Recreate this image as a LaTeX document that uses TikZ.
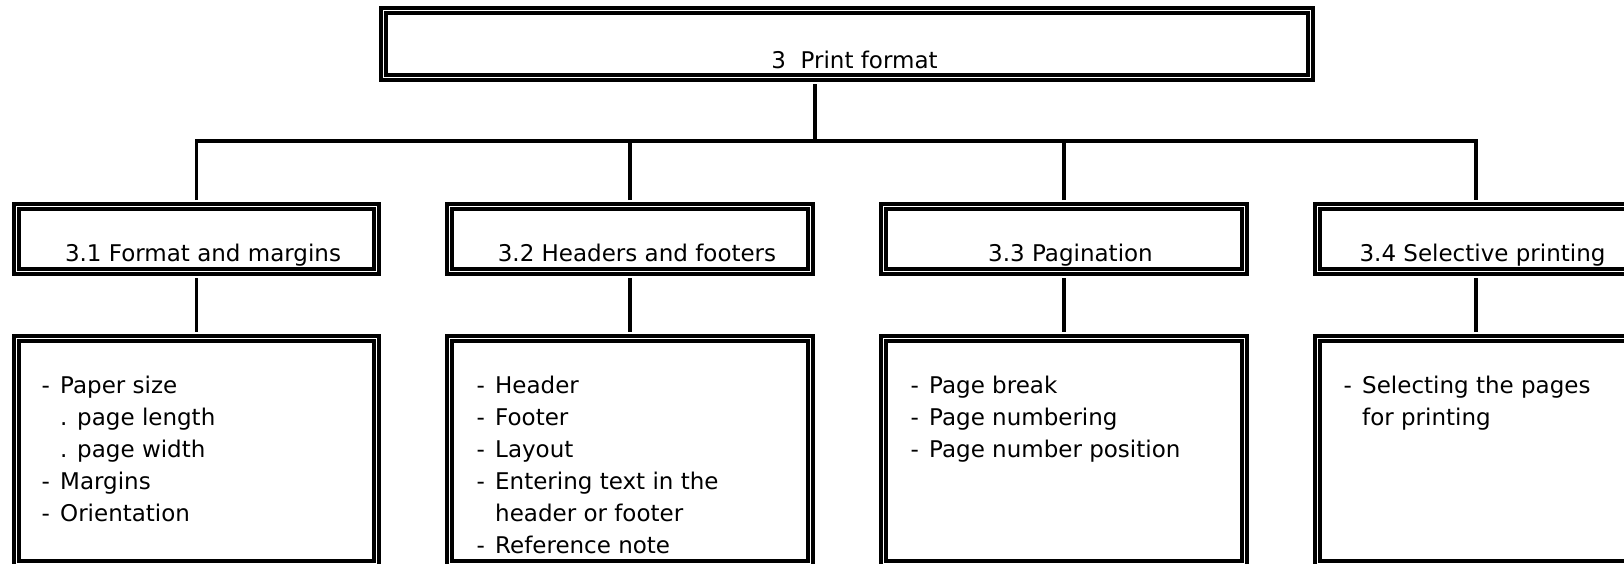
\documentclass[tikz,border=0pt]{standalone}
\usepackage{fontspec}
\setmainfont{DejaVu Sans}
\newcommand{\lidash}{\makebox[18.5pt][l]{-}}
\newcommand{\liind}{\hspace*{18.5pt}}
\begin{document}
\begin{tikzpicture}[x=1pt,y=-1pt,
  box/.style={draw=black, double=white, line width=4pt, double distance=1pt, fill=white, inner sep=0pt},
  conn/.style={draw=black, line width=3.7pt, shorten <=4.5pt, shorten >=4.5pt},
  leg/.style={draw=black, line width=3.7pt, shorten <=4.5pt},
  lbl/.style={inner sep=0pt, anchor=base, font=\fontsize{23}{32}\selectfont},
  lst/.style={inner sep=0pt, anchor=base west, font=\fontsize{23}{32}\selectfont}]
\useasboundingbox (0,0) rectangle (1624,563);
\fill[white] (0,0) rectangle (1624,563);
\clip (0,0) rectangle (1624,563);

% top box
\node[box, minimum width=927pt, minimum height=67pt] (top) at (847,44) {};
\node[lbl] (toptext) at (854.5,68) {3\ \ Print format};

% level 2
\node[box, minimum width=360pt, minimum height=65pt] (b1) at (196.5,239) {};
\node[box, minimum width=361pt, minimum height=65pt] (b2) at (630,239) {};
\node[box, minimum width=361pt, minimum height=65pt] (b3) at (1064,239) {};
\node[box, minimum width=317pt, minimum height=65pt] (b4) at (1476,239) {};
\node[lbl] (t1) at (203,261) {3.1 Format and margins};
\node[lbl] (t2) at (637,261) {3.2 Headers and footers};
\node[lbl] (t3) at (1070.5,261) {3.3 Pagination};
\node[lbl] (t4) at (1482.5,261) {3.4 Selective printing};

% level 3
\node[box, minimum width=360pt, minimum height=225pt] (c1) at (196.5,451) {};
\node[box, minimum width=361pt, minimum height=225pt] (c2) at (630,451) {};
\node[box, minimum width=361pt, minimum height=225pt] (c3) at (1064,451) {};
\node[box, minimum width=317pt, minimum height=225pt] (c4) at (1476,451) {};

\node[lst] (l1) at (41.5,393) {\begin{tabular}[t]{@{}l@{}}
\lidash Paper size\\
\liind . page length\\
\liind . page width\\
\lidash Margins\\
\lidash Orientation
\end{tabular}};
\node[lst] (l2) at (476.5,393) {\begin{tabular}[t]{@{}l@{}}
\lidash Header\\
\lidash Footer\\
\lidash Layout\\
\lidash Entering text in the\\
\liind header or footer\\
\lidash Reference note
\end{tabular}};
\node[lst] (l3) at (910.5,393) {\begin{tabular}[t]{@{}l@{}}
\lidash Page break\\
\lidash Page numbering\\
\lidash Page number position
\end{tabular}};
\node[lst] (l4) at (1343.5,393) {\begin{tabular}[t]{@{}l@{}}
\lidash Selecting the pages\\
\liind for printing
\end{tabular}};

% connectors
\coordinate (tj) at (815,141);
\draw[leg] (top.south -| tj) -- (tj);
\draw[conn] (b1.north) |- (tj) -| (b4.north);
\draw[leg] (b2.north) -- (b2.north |- tj);
\draw[leg] (b3.north) -- (b3.north |- tj);
\draw[conn] (b1.south) -- (c1.north);
\draw[conn] (b2.south) -- (c2.north);
\draw[conn] (b3.south) -- (c3.north);
\draw[conn] (b4.south) -- (c4.north);
\end{tikzpicture}
\end{document}
